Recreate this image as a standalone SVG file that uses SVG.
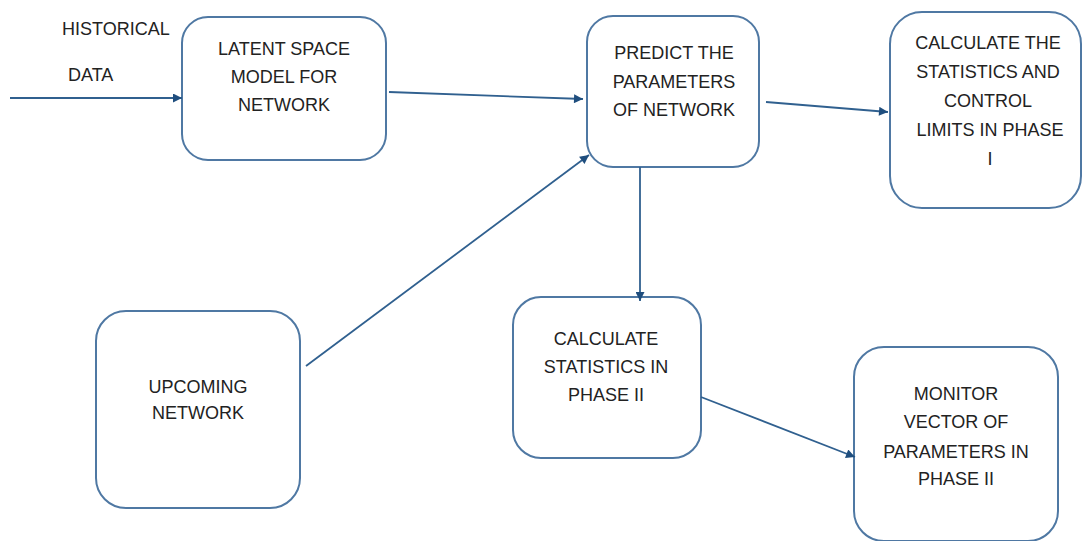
<svg xmlns="http://www.w3.org/2000/svg" width="1086" height="541" viewBox="0 0 1086 541">
<defs>
<style>
.box{fill:#ffffff;stroke:#4f78a3;stroke-width:2}
.lbl{font-family:"Liberation Sans",Arial,sans-serif;font-size:18px;fill:#222222;text-anchor:middle}
.free{font-family:"Liberation Sans",Arial,sans-serif;font-size:18px;fill:#222222}
.conn{fill:none;stroke:#30608f;stroke-width:1.8}
</style>
<marker id="ah" viewBox="0 0 10 10" refX="10" refY="5" markerWidth="11" markerHeight="9" markerUnits="userSpaceOnUse" orient="auto">
<path d="M0,0 L10,5 L0,10 z" fill="#1f4e7e"/>
</marker>
</defs>
<rect width="1086" height="541" fill="#ffffff"/>
<g id="historical-data">
<text class="free" x="62" y="35">HISTORICAL</text>
<text class="free" x="68" y="81">DATA</text>
</g>
<g id="latent-space-model">
<rect class="box" x="182" y="17" width="204" height="143" rx="26"/>
<text class="lbl" x="284" y="55">LATENT SPACE</text>
<text class="lbl" x="284" y="83">MODEL FOR</text>
<text class="lbl" x="284" y="111">NETWORK</text>
</g>
<g id="predict-parameters">
<rect class="box" x="587" y="16" width="172" height="151" rx="26"/>
<text class="lbl" x="674" y="59">PREDICT THE</text>
<text class="lbl" x="674" y="88">PARAMETERS</text>
<text class="lbl" x="674" y="116">OF NETWORK</text>
</g>
<g id="calc-control-limits">
<rect class="box" x="890" y="12" width="191" height="196" rx="32"/>
<text class="lbl" x="988" y="49">CALCULATE THE</text>
<text class="lbl" x="988" y="78">STATISTICS AND</text>
<text class="lbl" x="988" y="107">CONTROL</text>
<text class="lbl" x="990" y="136">LIMITS IN PHASE</text>
<text class="lbl" x="990" y="165">I</text>
</g>
<g id="upcoming-network">
<rect class="box" x="96" y="311" width="204" height="197" rx="30"/>
<text class="lbl" x="198" y="393">UPCOMING</text>
<text class="lbl" x="198" y="419">NETWORK</text>
</g>
<g id="calc-phase-ii">
<rect class="box" x="513" y="297" width="188" height="161" rx="28"/>
<text class="lbl" x="606" y="345">CALCULATE</text>
<text class="lbl" x="606" y="373">STATISTICS IN</text>
<text class="lbl" x="606" y="401">PHASE II</text>
</g>
<g id="monitor-vector">
<rect class="box" x="854" y="347" width="204" height="194" rx="30"/>
<text class="lbl" x="956" y="400">MONITOR</text>
<text class="lbl" x="956" y="428">VECTOR OF</text>
<text class="lbl" x="956" y="458">PARAMETERS IN</text>
<text class="lbl" x="956" y="485">PHASE II</text>
</g>
<g id="connectors">
<line class="conn" x1="10" y1="98" x2="182" y2="98" marker-end="url(#ah)"/>
<line class="conn" x1="389" y1="92" x2="583" y2="99" marker-end="url(#ah)"/>
<line class="conn" x1="766" y1="102" x2="888" y2="112" marker-end="url(#ah)"/>
<line class="conn" x1="306" y1="366" x2="589" y2="155" marker-end="url(#ah)"/>
<line class="conn" x1="640" y1="167" x2="640" y2="301" marker-end="url(#ah)"/>
<line class="conn" x1="701" y1="397" x2="855" y2="457" marker-end="url(#ah)"/>
</g>
</svg>
